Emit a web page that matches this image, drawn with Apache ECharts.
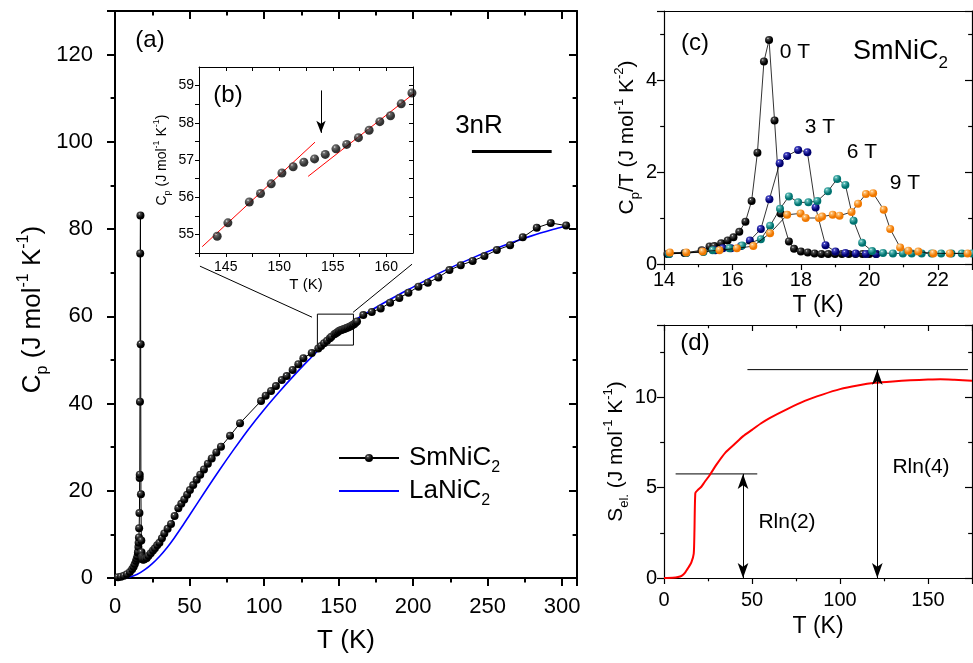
<!DOCTYPE html>
<html>
<head>
<meta charset="utf-8">
<script src="https://cdn.jsdelivr.net/npm/echarts@6/dist/echarts.min.js"></script>
<style>
html, body { margin: 0; padding: 0; background: #fff; }
#chart { width: 973px; height: 663px; }
</style>
</head>
<body>
<div id="chart"></div>
<script>
// (a) SmNiC2 heat capacity, T (K) / Cp (J mol-1 K-1)
var smT = [2, 4, 6, 8, 10, 11.5, 12.5, 13.3, 14.1, 14.6, 15.1, 15.35, 15.5, 15.7, 15.85, 16.05, 16.2, 16.4, 16.55, 16.6,
    16.75, 16.92, 17.07, 17.23, 17.4, 17.65, 17.8, 18.0, 18.25, 18.5, 19.0, 19.5, 20.2, 21.3, 22.5, 24, 25.5, 26.8, 28.3, 29.8,
    31.5, 33.1, 35.3, 37.6, 40, 42.5, 44.5, 46.5, 48.4, 50.3, 52.5, 54.8, 57.2, 59.7, 62.3, 64.9, 68, 71.1, 77.2, 83.9,
    98, 101.1, 104.7, 108, 111.9, 115.2, 119.2, 123, 126.4, 132, 136.4, 138.3, 140.3, 142.3,
    144.2, 145.2, 147.2, 148.25, 149.25, 150.25, 151.3, 152.3, 153.3, 154.3, 155.3, 156.3, 157.4, 158.4, 159.4, 160.4, 161.4, 162.4,
    166.6, 172.3, 178.3, 184.6, 190.8, 196.9, 203.6, 209.9, 217, 224.4, 232, 240, 247.9, 256.2, 265.1, 273.6, 283, 292.4, 302.7];
var smCp = [0.2, 0.3, 0.5, 0.85, 1.4, 2.0, 2.6, 3.2, 3.9, 4.4, 5.0, 5.8, 6.0, 7.1, 8.1, 9.3, 11.4, 14.9, 22.9, 23.7,
    40.4, 74.4, 83.1, 53.6, 19.2, 8.6, 5.9, 4.9, 4.6, 4.3, 4.2, 4.3, 4.4, 4.6, 5.1, 5.7, 6.3, 6.8, 7.5, 8.1,
    9.1, 10.2, 11.3, 12.4, 14.2, 16.0, 17.0, 18.0, 19.1, 20.2, 21.3, 22.5, 23.7, 24.9, 26.2, 27.4, 28.8, 30.1, 32.6, 35.5,
    40.6, 41.8, 42.9, 44.0, 45.4, 46.3, 47.7, 49.0, 50.4, 51.6, 52.6, 53.2, 53.8, 54.4,
    54.95, 55.31, 55.87, 56.1, 56.36, 56.65, 56.82, 56.94, 57.03, 57.15, 57.3, 57.42, 57.6, 57.8, 58.03, 58.19, 58.51, 58.8,
    60.3, 61.0, 61.8, 63.1, 64.2, 65.4, 66.8, 67.7, 68.9, 70.6, 71.7, 72.7, 73.8, 75.2, 76.3, 78.1, 80.3, 81.4, 80.8];

// (a) LaNiC2 reference
var laT = [2, 5, 10, 15, 20, 25, 30, 35, 40, 45, 50, 60, 70, 80, 90, 100, 110, 120, 130, 140, 150, 160, 170, 180, 190, 200,
    220, 240, 260, 280, 300, 303];
var laCp = [0, 0.03, 0.25, 0.85, 1.9, 3.3, 5.0, 7.0, 9.3, 11.8, 14.4, 19.6, 24.7, 29.6, 34.3, 38.6, 42.6, 46.4, 50.0, 53.4,
    56.2, 58.9, 61.0, 63.0, 64.9, 66.7, 70.3, 73.4, 76.1, 78.5, 80.5, 80.8];

// (a) annotations: 3nR bar, zoom box, connector lines
var nrT = [239.5, 293], nrCp = [97.8, 97.8];
var boxT = [135.8, 160, 160, 135.8, 135.8], boxCp = [53.4, 53.4, 60.5, 60.5, 53.4];
var link1T = [57, 132.2], link1Cp = [71.5, 59.8];
var link2T = [159.7, 199.3], link2Cp = [60.9, 71.95];

// (b) inset linear fits and arrow
var fit1T = [142.8, 153.34], fit1Cp = [54.67, 57.48];
var fit2T = [152.7, 163.3], fit2Cp = [56.56, 58.95];
var arrowBT = [153.9, 153.9], arrowBCp = [58.87, 57.73];

// (c) Cp/T near the transition, in fields 0, 3, 6, 9 T
var c0T = [14.1, 14.6, 15.1, 15.33, 15.47, 15.67, 15.86, 16.03, 16.2, 16.38, 16.56, 16.73, 16.92, 17.07, 17.23, 17.41, 17.65, 17.8,
    18.0, 18.2, 18.4, 18.6, 18.8, 19.0, 19.2, 19.4, 19.6, 19.8, 20.0, 20.2];
var c0V = [0.22, 0.24, 0.3, 0.38, 0.39, 0.45, 0.51, 0.58, 0.7, 0.92, 1.37, 2.42, 4.4, 4.87, 3.12, 1.1, 0.49, 0.33,
    0.27, 0.25, 0.23, 0.22, 0.22, 0.22, 0.22, 0.22, 0.22, 0.22, 0.22, 0.22];
var c3T = [14.15, 14.65, 15.15, 15.5, 15.72, 15.96, 16.25, 16.51, 16.83, 17.08, 17.38, 17.6, 17.92, 18.19, 18.43, 18.72, 19.01,
    19.3, 19.6, 19.9, 20.2];
var c3V = [0.22, 0.24, 0.27, 0.3, 0.34, 0.34, 0.39, 0.51, 0.76, 1.41, 2.19, 2.35, 2.48, 2.43, 1.23, 0.41, 0.27,
    0.24, 0.23, 0.22, 0.22];
var c6T = [14.15, 14.65, 15.15, 15.42, 15.91, 16.28, 16.83, 17.1, 17.39, 17.65, 17.92, 18.22, 18.48, 18.79, 19.06, 19.3, 19.54,
    19.79, 20.08, 20.4, 20.69, 20.98, 21.24, 21.53, 21.82, 22.1, 22.4, 22.7, 23.0];
var c6V = [0.22, 0.24, 0.26, 0.3, 0.34, 0.4, 0.54, 0.83, 1.2, 1.47, 1.34, 1.34, 1.37, 1.58, 1.85, 1.72, 0.94,
    0.46, 0.28, 0.24, 0.23, 0.23, 0.23, 0.23, 0.23, 0.23, 0.23, 0.23, 0.23];
var c9T = [14.17, 14.65, 15.13, 15.62, 16.13, 16.61, 17.1, 17.6, 17.99, 18.14, 18.53, 18.62, 18.93, 19.13, 19.48, 19.67, 19.9,
    20.11, 20.42, 20.61, 20.9, 21.14, 21.43, 21.87, 22.35, 22.87];
var c9V = [0.25, 0.25, 0.27, 0.3, 0.34, 0.39, 0.67, 1.07, 1.1, 1.0, 1.0, 1.03, 1.07, 1.05, 1.13, 1.31, 1.52,
    1.54, 1.18, 0.76, 0.36, 0.29, 0.27, 0.23, 0.23, 0.23];

// (d) electronic entropy
var dT = [0, 5, 8, 10, 12, 14, 15.5, 16.9, 17.3, 17.8, 19, 21.2, 23, 26, 30, 35, 40, 45, 50, 55, 60, 70, 80, 90, 100,
    110, 120, 130, 140, 150, 157, 165, 175];
var dS = [0, 0.01, 0.05, 0.12, 0.3, 0.6, 0.85, 1.35, 2.6, 4.7, 4.85, 5.05, 5.3, 5.7, 6.3, 6.95, 7.4, 7.85, 8.2, 8.55, 8.85,
    9.35, 9.8, 10.15, 10.45, 10.65, 10.8, 10.88, 10.94, 10.98, 11.0, 10.97, 10.92];
var rln2T = [6.6, 53], rln2S = [5.76, 5.76];
var rln4T = [47.4, 172.7], rln4S = [11.53, 11.53];
var arrowDT = [44.9, 121.2], arrowDTop = [5.76, 11.53];

var FONT = "'Liberation Sans', Arial, sans-serif";
var zip = function (xs, ys) { return xs.map(function (x, i) { return [x, ys[i]]; }); };

function ball(light, dark) {
    return new echarts.graphic.RadialGradient(0.36, 0.3, 0.7, [
        { offset: 0, color: '#f4f4f4' },
        { offset: 0.18, color: light },
        { offset: 0.7, color: dark },
        { offset: 1, color: dark }
    ]);
}

// 上下标用 rich text
function richName(size) {
    var small = Math.round(size * 0.62);
    return {
        a: { fontSize: size, fontFamily: FONT, color: '#000' },
        s: { fontSize: small, fontFamily: FONT, color: '#000', padding: [Math.round(size * 0.8), 0, 0, 0] },
        u: { fontSize: small, fontFamily: FONT, color: '#000', padding: [0, 0, Math.round(size * 0.7), 0] }
    };
}

// one labelled axis plus its mirrored partner on the opposite side of the box
function axes(dim, o) {
    var tickStyle = { color: '#000', width: o.lw };
    var common = {
        type: 'value', gridIndex: o.grid, min: o.min, max: o.max, interval: o.interval,
        splitLine: { show: false },
        axisLine: { show: true, onZero: false, lineStyle: { color: '#000', width: o.lw } }
    };
    var label = { show: true, fontSize: o.fs, fontFamily: FONT, color: '#000', margin: o.margin,
        showMaxLabel: !!o.maxLabel };
    if (o.fmt) label.formatter = o.fmt;
    var main = Object.assign({}, common, {
        position: dim === 'x' ? 'bottom' : 'left',
        axisTick: { show: true, inside: false, length: o.tick, lineStyle: tickStyle },
        minorTick: { show: o.minor !== false, splitNumber: 2, length: o.tick * 0.55, lineStyle: tickStyle },
        axisLabel: label,
        name: o.name, nameLocation: 'middle', nameGap: o.nameGap,
        nameTextStyle: { rich: richName(o.nameSize), padding: o.namePad || 0 }
    });
    var mirror = Object.assign({}, common, {
        position: dim === 'x' ? 'top' : 'right',
        axisTick: { show: o.mirrorTicks !== false, inside: true, length: o.tick, lineStyle: tickStyle },
        minorTick: { show: o.mirrorTicks !== false && o.minor !== false, splitNumber: 2, length: o.tick * 0.55, lineStyle: tickStyle },
        axisLabel: { show: false }
    });
    return [main, mirror];
}

var xA = [].concat(
    axes('x', { grid: 0, min: 0, max: 310, interval: 50, lw: 2, tick: 8, fs: 22, margin: 18,
        name: '{a|T (K)}', nameGap: 50, nameSize: 26 }),
    axes('x', { grid: 1, min: 142.5, max: 162.5, interval: 2.5, lw: 1, tick: 4, fs: 14, margin: 7, minor: false,
        fmt: function (v) { return v % 5 === 0 ? v : ''; }, name: '{a|T (K)}', nameGap: 24, nameSize: 15 }),
    axes('x', { grid: 2, min: 14, max: 23, interval: 2, lw: 1.2, tick: 6, fs: 20, margin: 6, mirrorTicks: false,
        name: '{a|T (K)}', nameGap: 30, nameSize: 23 }),
    axes('x', { grid: 3, min: 0, max: 175, interval: 50, lw: 1.2, tick: 6, fs: 20, margin: 12,
        name: '{a|T (K)}', nameGap: 37, nameSize: 23 })
);
var yA = [].concat(
    axes('y', { grid: 0, min: 0, max: 130, interval: 20, lw: 2, tick: 8, fs: 22, margin: 22,
        name: '{a|C}{s|p}{a| (J mol}{u|-1}{a| K}{u|-1}{a|)}', nameGap: 64, nameSize: 26, namePad: [0, 30, 0, 0] }),
    axes('y', { grid: 1, min: 54.5, max: 59.5, interval: 0.5, lw: 1, tick: 4, fs: 14, margin: 5, minor: false,
        fmt: function (v) { return Number.isInteger(v) ? v : ''; },
        name: '{a|C}{s|p}{a| (J mol}{u|-1}{a| K}{u|-1}{a|)}', nameGap: 27, nameSize: 14 }),
    axes('y', { grid: 2, min: 0, max: 5.5, interval: 2, lw: 1.2, tick: 7, fs: 20, margin: 7,
        name: '{a|C}{s|p}{a|/T (J mol}{u|-1}{a| K}{u|-2}{a|)}', nameGap: 13, nameSize: 21 }),
    axes('y', { grid: 3, min: 0, max: 14, interval: 5, lw: 1.2, tick: 7, fs: 20, margin: 7,
        name: '{a|S}{s|el.}{a| (J mol}{u|-1}{a| K}{u|-1}{a|)}', nameGap: 18, nameSize: 21 })
);

var blackBall = ball('#4a4a4a', '#000000');
var annot = function (xs, ys, w, color, xi, yi) {
    return { type: 'line', xAxisIndex: xi || 0, yAxisIndex: yi || 0, data: zip(xs, ys), symbol: 'none', silent: true,
        clip: false, lineStyle: { color: color || '#000', width: w }, z: 3 };
};
var fieldSeries = function (name, xs, ys, light, dark, z) {
    return { name: name, type: 'line', xAxisIndex: 4, yAxisIndex: 4, data: zip(xs, ys), symbol: 'circle', symbolSize: 8,
        showAllSymbol: true, itemStyle: { color: ball(light, dark) }, lineStyle: { color: '#000', width: 0.8 }, z: z };
};

var insetData = zip(smT, smCp).filter(function (p) { return p[0] > 142.5 && p[0] < 162.5; });

var option = {
    animation: false,
    backgroundColor: '#fff',
    textStyle: { fontFamily: FONT },
    grid: [
        { left: 115, top: 11, width: 462, height: 567 },
        { left: 199, top: 67, width: 214, height: 186 },
        { left: 664, top: 11, width: 308, height: 253 },
        { left: 664, top: 325, width: 308, height: 253 }
    ],
    xAxis: xA,
    yAxis: yA,
    legend: {
        data: [{ name: 'SmNiC2' }, { name: 'LaNiC2', itemStyle: { opacity: 0 } }],
        orient: 'vertical', left: 333, top: 440, itemWidth: 60, itemHeight: 10, itemGap: 2,
        formatter: function (n) { return n === 'SmNiC2' ? '{a|SmNiC}{s|2}' : '{a|LaNiC}{s|2}'; },
        textStyle: { padding: [0, 0, 0, 5], rich: {
            a: { fontSize: 26, fontFamily: FONT, color: '#000' },
            s: { fontSize: 16, fontFamily: FONT, color: '#000', padding: [20, 0, 0, 0] } } }
    },
    series: [
        { name: 'LaNiC2', type: 'line', xAxisIndex: 0, yAxisIndex: 0, data: zip(laT, laCp), symbol: 'none', smooth: 0.3,
            lineStyle: { color: '#0000ff', width: 1.6 }, itemStyle: { color: '#0000ff' }, z: 3 },
        { name: 'SmNiC2', type: 'line', xAxisIndex: 0, yAxisIndex: 0, data: zip(smT, smCp), symbol: 'circle', symbolSize: 8,
            showAllSymbol: true, itemStyle: { color: blackBall }, lineStyle: { color: '#000', width: 1 }, z: 4 },
        annot(nrT, nrCp, 3),
        annot(boxT, boxCp, 1),
        annot(link1T, link1Cp, 1),
        annot(link2T, link2Cp, 1),
        // inset (b)
        annot(fit1T, fit1Cp, 1, '#ff0000', 2, 2),
        annot(fit2T, fit2Cp, 1, '#ff0000', 2, 2),
        { name: 'inset', type: 'scatter', xAxisIndex: 2, yAxisIndex: 2, data: insetData, symbolSize: 9,
            itemStyle: { color: blackBall }, z: 4,
            markLine: { silent: true, symbol: ['none', 'arrow'], symbolSize: [7, 12], label: { show: false },
                lineStyle: { color: '#000', width: 1, type: 'solid' },
                data: [[{ coord: [arrowBT[0], arrowBCp[0]] }, { coord: [arrowBT[1], arrowBCp[1]] }]] } },
        // panel (c)
        fieldSeries('0 T', c0T, c0V, '#4a4a4a', '#000000', 4),
        fieldSeries('3 T', c3T, c3V, '#4848c8', '#00006e', 5),
        fieldSeries('6 T', c6T, c6V, '#5cbcb8', '#007370', 6),
        fieldSeries('9 T', c9T, c9V, '#ffc070', '#f07800', 7),
        // panel (d)
        { name: 'Sel', type: 'line', xAxisIndex: 6, yAxisIndex: 6, data: zip(dT, dS), symbol: 'none', smooth: 0.2,
            lineStyle: { color: '#ff0000', width: 2 }, z: 4,
            markLine: { silent: true, symbol: ['arrow', 'arrow'], symbolSize: [8, 15], label: { show: false },
                lineStyle: { color: '#000', width: 1, type: 'solid' },
                data: arrowDT.map(function (t, i) { return [{ coord: [t, 0] }, { coord: [t, arrowDTop[i]] }]; }) } },
        annot(rln2T, rln2S, 1, '#000', 6, 6),
        annot(rln4T, rln4S, 1, '#000', 6, 6)
    ],
    graphic: [
        { type: 'text', x: 150, y: 40, style: { text: '(a)', fontSize: 24, fontFamily: FONT, fill: '#000', align: 'center', verticalAlign: 'middle' } },
        { type: 'text', x: 228, y: 95, style: { text: '(b)', fontSize: 24, fontFamily: FONT, fill: '#000', align: 'center', verticalAlign: 'middle' } },
        { type: 'text', x: 479, y: 126, style: { text: '3nR', fontSize: 26, fontFamily: FONT, fill: '#000', align: 'center', verticalAlign: 'middle' } },
        { type: 'text', x: 695, y: 43, style: { text: '(c)', fontSize: 24, fontFamily: FONT, fill: '#000', align: 'center', verticalAlign: 'middle' } },
        { type: 'text', x: 795, y: 52, style: { text: '0 T', fontSize: 21, fontFamily: FONT, fill: '#000', align: 'center', verticalAlign: 'middle' } },
        { type: 'text', x: 820, y: 127, style: { text: '3 T', fontSize: 21, fontFamily: FONT, fill: '#000', align: 'center', verticalAlign: 'middle' } },
        { type: 'text', x: 862, y: 152, style: { text: '6 T', fontSize: 21, fontFamily: FONT, fill: '#000', align: 'center', verticalAlign: 'middle' } },
        { type: 'text', x: 905, y: 183, style: { text: '9 T', fontSize: 21, fontFamily: FONT, fill: '#000', align: 'center', verticalAlign: 'middle' } },
        { type: 'text', x: 853, y: 52, style: { text: '{a|SmNiC}{s|2}', align: 'left', verticalAlign: 'middle', rich: {
            a: { fontSize: 27, fontFamily: FONT, fill: '#000' },
            s: { fontSize: 17, fontFamily: FONT, fill: '#000', padding: [22, 0, 0, 0] } } } },
        { type: 'text', x: 695, y: 343, style: { text: '(d)', fontSize: 24, fontFamily: FONT, fill: '#000', align: 'center', verticalAlign: 'middle' } },
        { type: 'text', x: 787, y: 522, style: { text: 'Rln(2)', fontSize: 21, fontFamily: FONT, fill: '#000', align: 'center', verticalAlign: 'middle' } },
        { type: 'text', x: 921, y: 467, style: { text: 'Rln(4)', fontSize: 21, fontFamily: FONT, fill: '#000', align: 'center', verticalAlign: 'middle' } }
    ]
};

var chart = echarts.init(document.getElementById('chart'));
chart.setOption(option);
window.addEventListener('resize', function () { chart.resize(); });
</script>
</body>
</html>
